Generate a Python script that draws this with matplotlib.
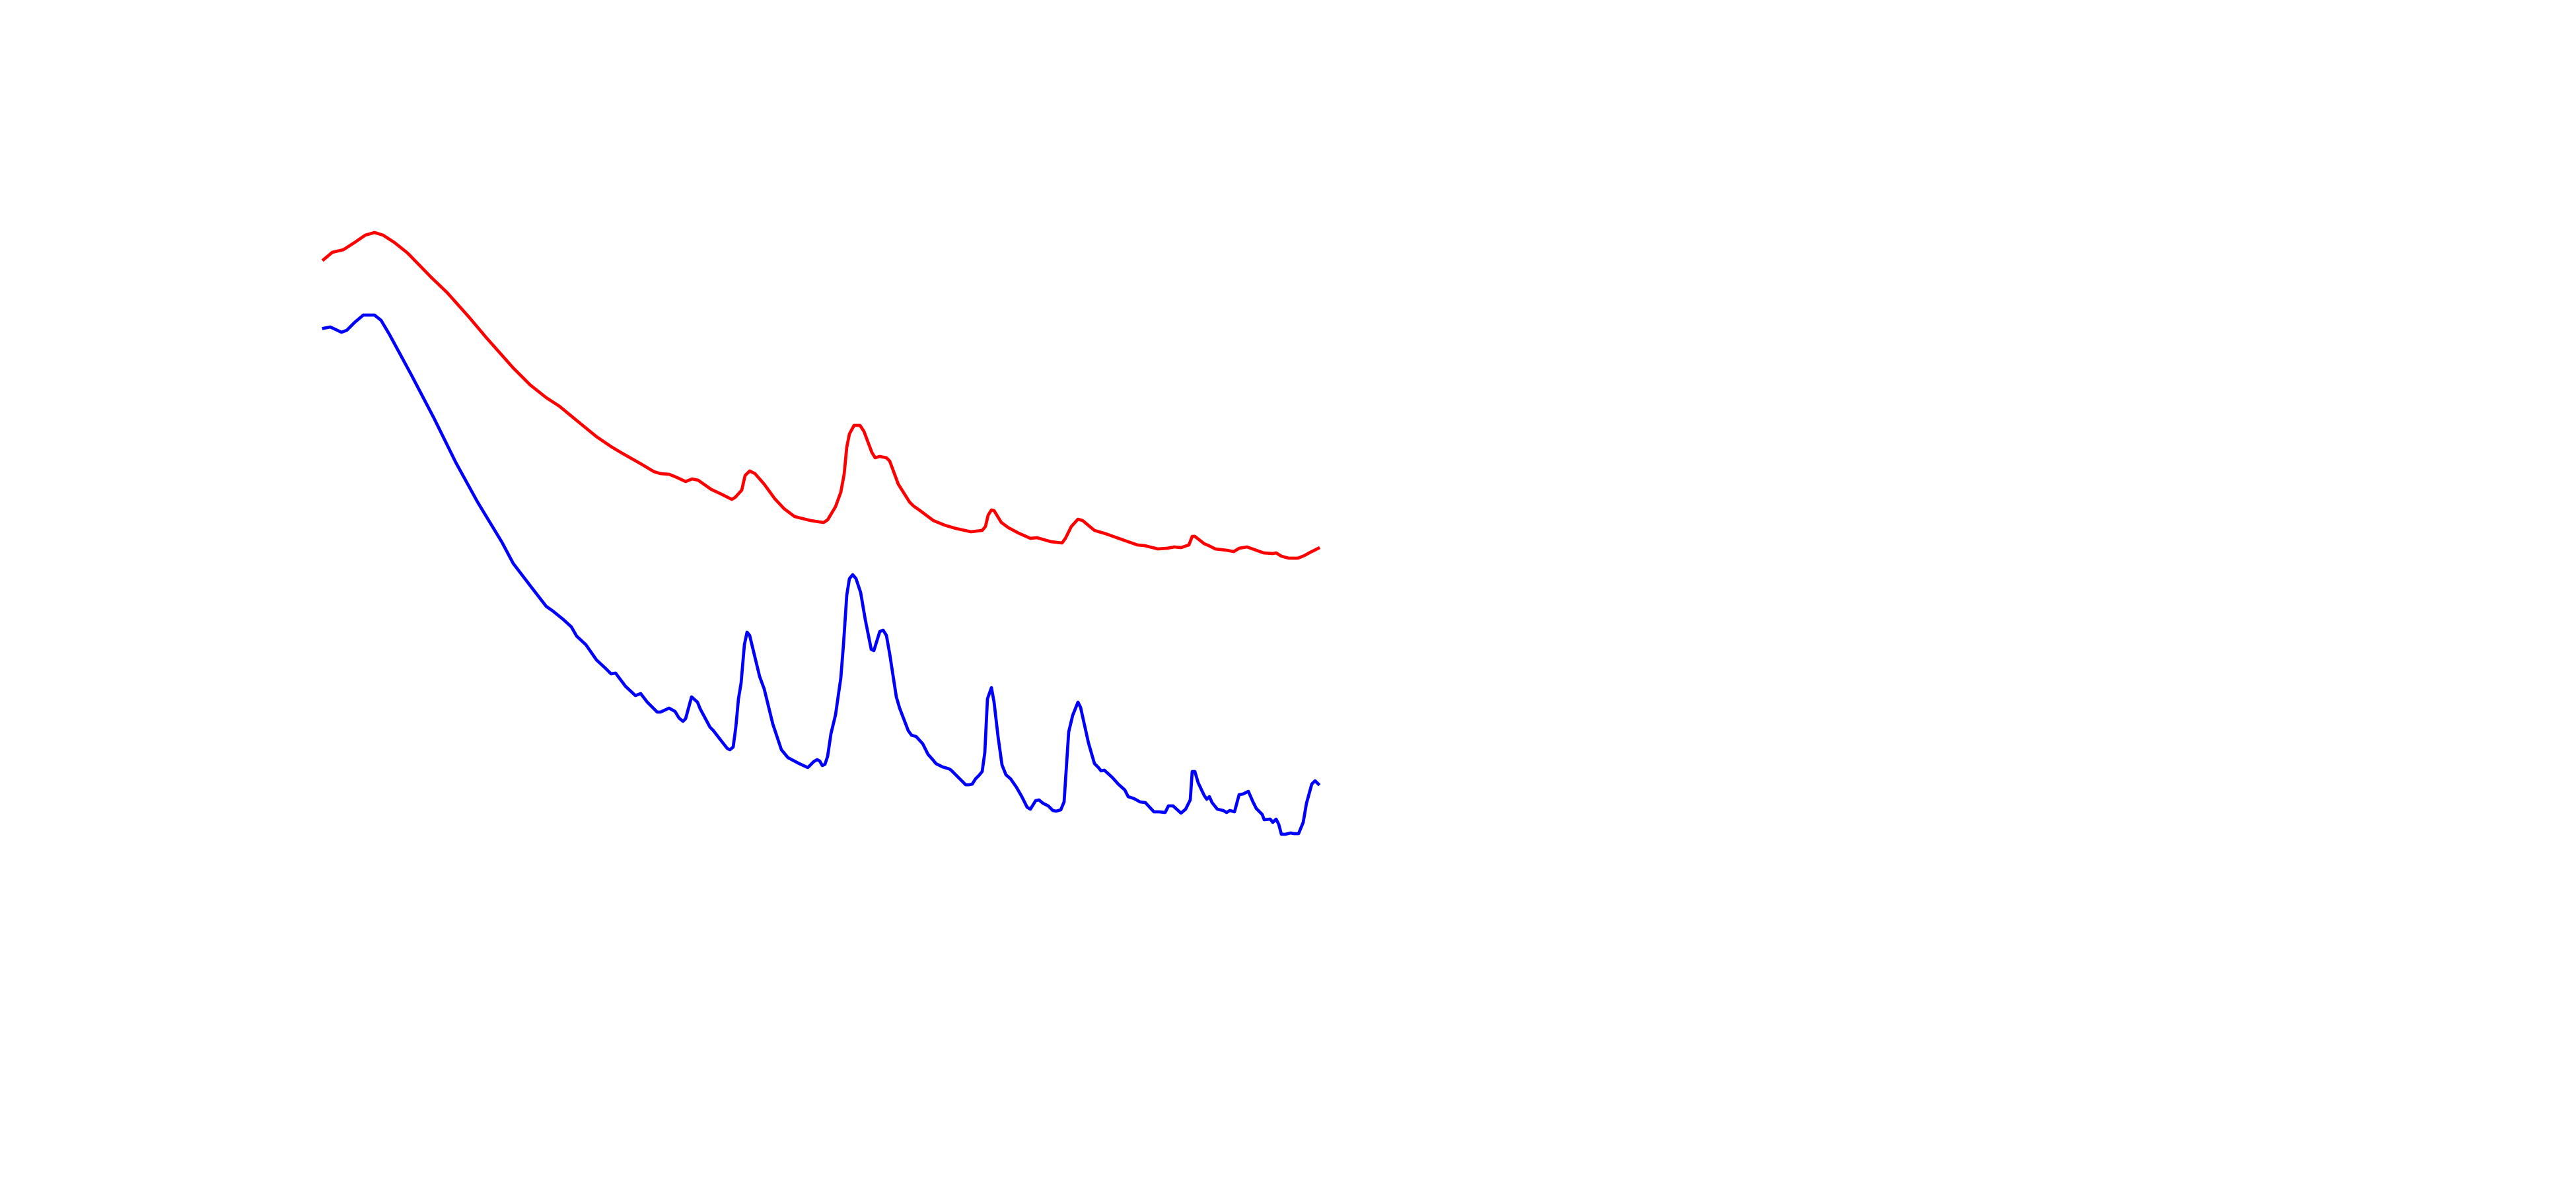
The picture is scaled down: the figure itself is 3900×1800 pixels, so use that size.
import matplotlib
matplotlib.use("Agg")
import matplotlib.pyplot as plt

red_x = [0.0, 1.3, 3.0, 4.7, 6.3, 7.7, 9.0, 10.7, 12.7, 16.3, 18.7, 22.0, 24.7, 28.7, 31.3, 33.7,
         35.7, 38.0, 41.3, 43.5, 45.0, 48.0, 50.0, 51.0, 52.3, 53.3, 54.8, 55.8, 56.7, 58.7, 60.2,
         61.8, 62.3, 63.3, 63.8, 64.5, 65.3, 66.7, 68.3, 69.7, 71.3, 73.7, 75.0, 75.7, 76.3, 77.5,
         78.3, 78.8, 79.2, 79.6, 80.3, 81.2, 81.8, 83.0, 83.5, 84.2, 85.2, 85.7, 87.0, 88.7, 89.3,
         90.3, 92.3, 94.0, 95.7, 98.0, 99.7, 100.2, 100.6, 101.1, 101.5, 102.6, 103.7, 105.2, 107.0,
         108.0, 110.1, 111.8, 112.3, 113.2, 114.2, 114.9, 116.7, 118.4, 121.2, 123.2, 124.3, 126.3,
         127.7, 128.8, 129.8, 131.0, 131.5, 131.9, 133.3, 134.0, 135.0, 136.7, 137.8, 138.6, 139.8,
         142.3, 143.7, 144.2, 145.0, 146.1, 147.5, 148.5, 149.2, 150.6]
red_y = [110.7, 111.8, 112.2, 113.3, 114.4, 114.8, 114.4, 113.3, 111.7, 108.0, 105.7, 102.0, 98.8,
         94.3, 91.7, 89.8, 88.5, 86.6, 83.9, 82.4, 81.5, 79.8, 78.6, 78.3, 78.2, 77.8, 77.1, 77.5,
         77.3, 75.9, 75.2, 74.4, 74.7, 75.8, 78.0, 78.7, 78.3, 76.7, 74.5, 73.0, 71.8, 71.2, 71.0,
         70.9, 71.3, 73.3, 75.5, 78.2, 82.3, 84.3, 85.6, 85.6, 84.7, 81.5, 80.7, 80.9, 80.7, 80.2,
         76.7, 74.0, 73.4, 72.7, 71.2, 70.5, 70.0, 69.5, 69.7, 70.3, 72.0, 72.8, 72.7, 70.9, 70.1,
         69.3, 68.5, 68.6, 68.0, 67.8, 68.5, 70.3, 71.4, 71.2, 69.7, 69.2, 68.2, 67.5, 67.4, 66.9,
         67.0, 67.2, 67.1, 67.5, 68.8, 68.8, 67.7, 67.4, 66.9, 66.7, 66.5, 67.0, 67.2, 66.3, 66.2,
         66.3, 65.8, 65.5, 65.5, 65.9, 66.3, 67.0]

blue_x = [0.0, 1.0, 2.7, 3.5, 4.7, 6.0, 7.7, 8.7, 10.0, 13.3, 16.7, 20.0, 23.3, 27.0, 28.7, 31.3,
          33.7, 34.7, 36.3, 37.5, 38.3, 39.7, 41.3, 42.7, 43.5, 44.2, 45.7, 47.2, 48.0, 49.0, 49.7,
          50.5, 51.0, 52.3, 53.2, 53.8, 54.4, 54.8, 55.7, 56.6, 57.0, 58.5, 59.0, 60.0, 61.1, 61.5,
          62.0, 62.4, 62.8, 63.2, 63.7, 64.1, 64.5, 65.3, 66.0, 66.7, 68.0, 69.3, 70.3, 72.0, 73.3,
          74.2, 74.7, 75.1, 75.5, 75.9, 76.3, 76.8, 77.5, 78.3, 78.7, 79.2, 79.6, 80.1, 80.6, 81.3,
          82.0, 82.9, 83.3, 84.2, 84.7, 85.2, 85.7, 86.7, 87.2, 88.5, 89.0, 89.7, 90.7, 91.5, 92.3,
          92.7, 93.7, 94.7, 95.0, 96.2, 97.2, 97.7, 98.2, 98.7, 99.2, 99.7, 100.1, 100.5, 101.1,
          101.5, 102.1, 102.7, 103.3, 104.0, 104.9, 105.7, 106.5, 107.0, 107.8, 108.3, 108.9, 109.7,
          110.4, 110.9, 111.6, 112.1, 112.5, 112.8, 113.4, 114.2, 114.6, 115.8, 116.7, 117.3, 117.7,
          118.2, 119.4, 120.3, 121.3, 121.8, 122.7, 123.6, 124.4, 125.7, 126.5, 127.4, 127.9, 128.6,
          129.8, 130.5, 131.2, 131.5, 131.9, 132.4, 133.3, 133.7, 134.1, 134.5, 135.3, 136.2, 136.7,
          137.2, 137.9, 138.6, 139.2, 140.0, 140.7, 141.2, 142.1, 142.4, 143.3, 143.7, 144.2, 144.6,
          145.0, 145.6, 146.4, 146.9, 147.6, 148.3, 148.8, 149.6, 150.1, 150.6]
blue_y = [100.3, 100.5, 99.7, 100.0, 101.2, 102.3, 102.3, 101.5, 99.3, 93.2, 86.7, 80.0, 74.0, 67.9,
          64.7, 61.3, 58.2, 57.5, 56.2, 55.1, 53.7, 52.4, 50.1, 48.8, 48.0, 48.1, 46.1, 44.7, 45.0,
          43.7, 43.0, 42.2, 42.2, 42.8, 42.3, 41.3, 40.8, 41.2, 44.5, 43.7, 42.7, 39.9, 39.4, 38.1,
          36.7, 36.5, 36.9, 39.9, 44.2, 46.6, 52.4, 54.3, 53.8, 50.5, 47.6, 45.7, 40.4, 36.5, 35.3,
          34.4, 33.8, 34.7, 35.0, 34.8, 34.1, 34.3, 35.5, 38.9, 41.8, 47.4, 52.4, 59.9, 62.4, 63.0,
          62.4, 60.3, 56.2, 51.7, 51.5, 54.4, 54.6, 53.8, 51.0, 44.5, 42.8, 39.4, 38.7, 38.5, 37.4,
          35.8, 34.9, 34.4, 33.9, 33.6, 33.4, 32.2, 31.2, 31.2, 31.3, 32.1, 32.6, 33.2, 36.1, 44.2,
          45.9, 43.7, 38.5, 34.2, 32.7, 32.1, 30.8, 29.4, 27.8, 27.5, 28.8, 28.9, 28.4, 28.0, 27.3,
          27.2, 27.4, 28.6, 34.6, 39.2, 41.7, 43.7, 42.9, 37.5, 34.4, 33.8, 33.3, 33.4, 32.3, 31.3,
          30.4, 29.4, 29.1, 28.6, 28.5, 27.1, 27.1, 27.0, 28.0, 28.0, 26.9, 27.5, 28.9, 33.2, 33.2,
          31.5, 29.6, 29.0, 29.4, 28.5, 27.5, 27.3, 27.0, 27.3, 27.1, 29.7, 29.8, 30.2, 28.6, 27.6,
          26.7, 25.9, 26.0, 25.5, 26.0, 25.2, 23.7, 23.7, 23.9, 23.8, 23.8, 25.5, 28.4, 31.3, 31.8,
          31.3]

fig = plt.figure(figsize=(39, 18), dpi=100)
ax = fig.add_axes([0, 0, 1, 1])
ax.plot(red_x, red_y, color="#ff0000", linewidth=3.4, solid_joinstyle="round")
ax.plot(blue_x, blue_y, color="#0000ff", linewidth=3.4, solid_joinstyle="round")
ax.set_xlim(-49.0, 341.0)
ax.set_ylim(-30.0, 150.0)
ax.axis("off")
fig.savefig("out.png", dpi=100, facecolor="white")
